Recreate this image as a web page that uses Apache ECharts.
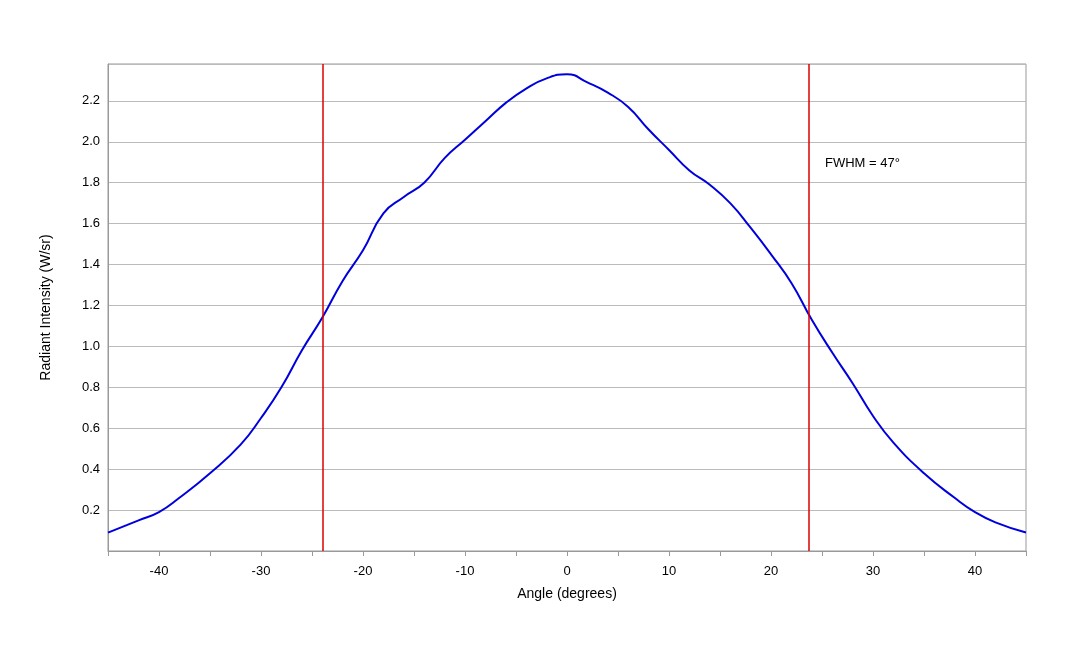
<!DOCTYPE html><html><head><meta charset="utf-8"><script src="https://cdn.jsdelivr.net/npm/echarts@6/dist/echarts.min.js"></script></head><body style="margin:0"><div id="c" style="width:1080px;height:648px"></div><script>
const angles=[-45,-42,-40,-38,-35,-32,-30,-28,-26,-24,-22,-20,-18,-16,-14,-12,-10,-8,-6,-4,-2,0,2,4,6,8,10,12,14,16,18,20,22,24,26,28,30,32,35,38,40,42,45];
const intensity=[0.09,0.15,0.19,0.26,0.38,0.52,0.65,0.80,0.98,1.14,1.32,1.47,1.65,1.73,1.80,1.92,2.01,2.10,2.19,2.26,2.31,2.33,2.29,2.24,2.17,2.06,1.96,1.86,1.79,1.70,1.58,1.45,1.31,1.13,0.97,0.82,0.66,0.53,0.38,0.26,0.19,0.14,0.09];
const fwhmLines=[-23.9,23.7];
const note='FWHM = 47°';
const ch=echarts.init(document.getElementById('c'));
const f='Liberation Sans';
ch.setOption({animation:false,textStyle:{fontFamily:f},
grid:{left:108,right:54,top:64,bottom:97,show:true,borderColor:'#999',borderWidth:1},
xAxis:{type:'value',min:-45,max:45,interval:5,name:'Angle (degrees)',nameLocation:'middle',nameGap:36,nameTextStyle:{fontSize:14,color:'#000'},
 axisLine:{lineStyle:{color:'#999'}},axisTick:{show:true,length:5,lineStyle:{color:'#999'},interval:(i,v)=>false},splitLine:{show:false},
 axisLabel:{color:'#000',fontSize:13,margin:14,formatter:v=>(v%10===0&&Math.abs(v)<45)?String(v):''}},
yAxis:{type:'value',min:0,max:2.38,interval:0.2,name:'Radiant Intensity (W/sr)',nameLocation:'middle',nameGap:55,nameTextStyle:{fontSize:14,color:'#000'},
 axisLine:{show:true,onZero:false,lineStyle:{color:'#999'}},axisTick:{show:false},splitLine:{lineStyle:{color:'#bbb'}},
 axisLabel:{color:'#000',fontSize:13,formatter:v=>(v>0.05&&v<2.3)?v.toFixed(1):''}},
graphic:[{type:'text',left:825,top:157,style:{text:note,fontSize:13,fill:'#000',fontFamily:f}}],
series:[{type:'line',smooth:true,symbol:'none',data:angles.map((a,i)=>[a,intensity[i]]),lineStyle:{color:'#0000dd',width:2},
 markLine:{silent:true,symbol:'none',label:{show:false},lineStyle:{color:'#dd0000',width:1.5,type:'solid'},data:fwhmLines.map(x=>({xAxis:x}))}}]});
</script></body></html>
